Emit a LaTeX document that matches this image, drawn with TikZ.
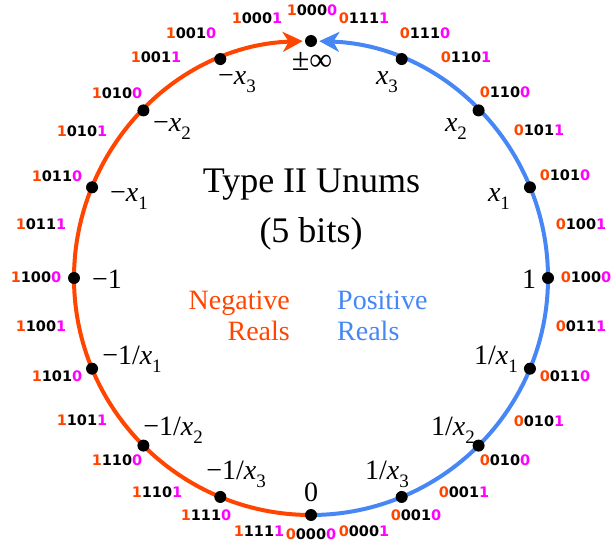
\documentclass[tikz,border=0pt]{standalone}
\usepackage{fontspec}
\setmainfont{Liberation Serif}
\newfontfamily\bitfont{DejaVu Sans}
\usetikzlibrary{arrows.meta,backgrounds}
\definecolor{negred}{RGB}{255,69,0}
\definecolor{posblue}{RGB}{70,135,245}
\definecolor{bitmag}{RGB}{255,0,255}
\newcommand\bitlab[3]{{\color{negred}#1}#2{\color{bitmag}#3}}
\newcommand\lowsub[1]{\raisebox{-0.28em}{\fontsize{19}{19}\selectfont #1}}
\newcommand\vx{\textit{x}}
\tikzset{
  dot/.style={circle, fill=black, inner sep=0pt, minimum size=12pt},
  bitnode/.style={font=\bitfont\bfseries\fontsize{14.5}{16}\selectfont, inner sep=0pt},
  vallab/.style={font=\fontsize{28}{30}\selectfont, inner sep=0pt},
  arcline/.style={line width=4pt, -{Stealth[length=20pt,width=20pt,inset=6pt]}},
  titletext/.style={font=\fontsize{36}{40}\selectfont, inner sep=0pt, anchor=base},
  sidetext/.style={font=\fontsize{28}{31}\selectfont, inner sep=0pt}
}
\begin{document}
\begin{tikzpicture}[x=1pt,y=1pt]
\useasboundingbox (0,0) rectangle (611,542);
% dots
\foreach \k in {0,...,15}
  \node[dot] (d\k) at ({311+237*cos(-90+22.5*\k)},{264+237*sin(-90+22.5*\k)}) {};
% arcs
\begin{scope}[on background layer]
  \draw[arcline, negred] (d0.center) arc[start angle=270, end angle=92, radius=237];
  \draw[arcline, posblue] (d0.center) arc[start angle=-90, end angle=88, radius=237];
\end{scope}
% value labels
\node[vallab, font=\fontsize{32}{34}\selectfont] (lpinf) at (312,481) {±∞};
\node[vallab] (lx3) at (387,460) {\vx\lowsub{3}};
\node[vallab] (lmx3) at (237,460) {−\vx\lowsub{3}};
\node[vallab] (lx2) at (456,413) {\vx\lowsub{2}};
\node[vallab] (lmx2) at (172,413) {−\vx\lowsub{2}};
\node[vallab] (lx1) at (499,343) {\vx\lowsub{1}};
\node[vallab] (lmx1) at (129,343) {−\vx\lowsub{1}};
\node[vallab] (lone) at (529,263) {1};
\node[vallab] (lmone) at (107,263) {−1};
\node[vallab] (lix1) at (496,183) {1/\vx\lowsub{1}};
\node[vallab] (lmix1) at (132,183) {−1/\vx\lowsub{1}};
\node[vallab] (lix2) at (453,112) {1/\vx\lowsub{2}};
\node[vallab] (lmix2) at (173,112) {−1/\vx\lowsub{2}};
\node[vallab] (lix3) at (387,68) {1/\vx\lowsub{3}};
\node[vallab] (lmix3) at (236,68) {−1/\vx\lowsub{3}};
\node[vallab] (lzero) at (311,50) {0};
% bit labels
\node[bitnode] (b16) at (312,532) {\bitlab{1}{000}{0}};
\node[bitnode] (b17) at (257,524) {\bitlab{1}{000}{1}};
\node[bitnode] (b15) at (364,524) {\bitlab{0}{111}{1}};
\node[bitnode] (b18) at (191,509) {\bitlab{1}{001}{0}};
\node[bitnode] (b14) at (425,509) {\bitlab{0}{111}{0}};
\node[bitnode] (b19) at (156,485) {\bitlab{1}{001}{1}};
\node[bitnode] (b13) at (466,485) {\bitlab{0}{110}{1}};
\node[bitnode] (b20) at (117,449) {\bitlab{1}{010}{0}};
\node[bitnode] (b12) at (505,450) {\bitlab{0}{110}{0}};
\node[bitnode] (b21) at (82,411) {\bitlab{1}{010}{1}};
\node[bitnode] (b11) at (539,412) {\bitlab{0}{101}{1}};
\node[bitnode] (b22) at (57,366) {\bitlab{1}{011}{0}};
\node[bitnode] (b10) at (565,367) {\bitlab{0}{101}{0}};
\node[bitnode] (b23) at (41,318) {\bitlab{1}{011}{1}};
\node[bitnode] (b9) at (581,318) {\bitlab{0}{100}{1}};
\node[bitnode] (b24) at (36,265) {\bitlab{1}{100}{0}};
\node[bitnode] (b8) at (586,265) {\bitlab{0}{100}{0}};
\node[bitnode] (b25) at (41,216) {\bitlab{1}{100}{1}};
\node[bitnode] (b7) at (581,216) {\bitlab{0}{011}{1}};
\node[bitnode] (b26) at (57,166) {\bitlab{1}{101}{0}};
\node[bitnode] (b6) at (565,166) {\bitlab{0}{011}{0}};
\node[bitnode] (b27) at (82,122) {\bitlab{1}{101}{1}};
\node[bitnode] (b5) at (539,121) {\bitlab{0}{010}{1}};
\node[bitnode] (b28) at (117,82) {\bitlab{1}{110}{0}};
\node[bitnode] (b4) at (505,82) {\bitlab{0}{010}{0}};
\node[bitnode] (b29) at (157,50) {\bitlab{1}{110}{1}};
\node[bitnode] (b3) at (464,50) {\bitlab{0}{001}{1}};
\node[bitnode] (b30) at (206,27) {\bitlab{1}{111}{0}};
\node[bitnode] (b2) at (416,27) {\bitlab{0}{001}{0}};
\node[bitnode] (b31) at (259,11) {\bitlab{1}{111}{1}};
\node[bitnode] (b1) at (364,11) {\bitlab{0}{000}{1}};
\node[bitnode] (b0) at (311,8) {\bitlab{0}{000}{0}};
% central texts
\node[titletext] (title) at (311.5,349) {Type II Unums};
\node[titletext] (subtitle) at (311,300) {(5 bits)};
\node[sidetext, anchor=base east, text=negred] (neg1) at (290,233) {Negative};
\node[sidetext, anchor=base east, text=negred] (neg2) at (290,202) {Reals};
\node[sidetext, anchor=base west, text=posblue] (pos1) at (337,233) {Positive};
\node[sidetext, anchor=base west, text=posblue] (pos2) at (337,202) {Reals};
\end{tikzpicture}
\end{document}
